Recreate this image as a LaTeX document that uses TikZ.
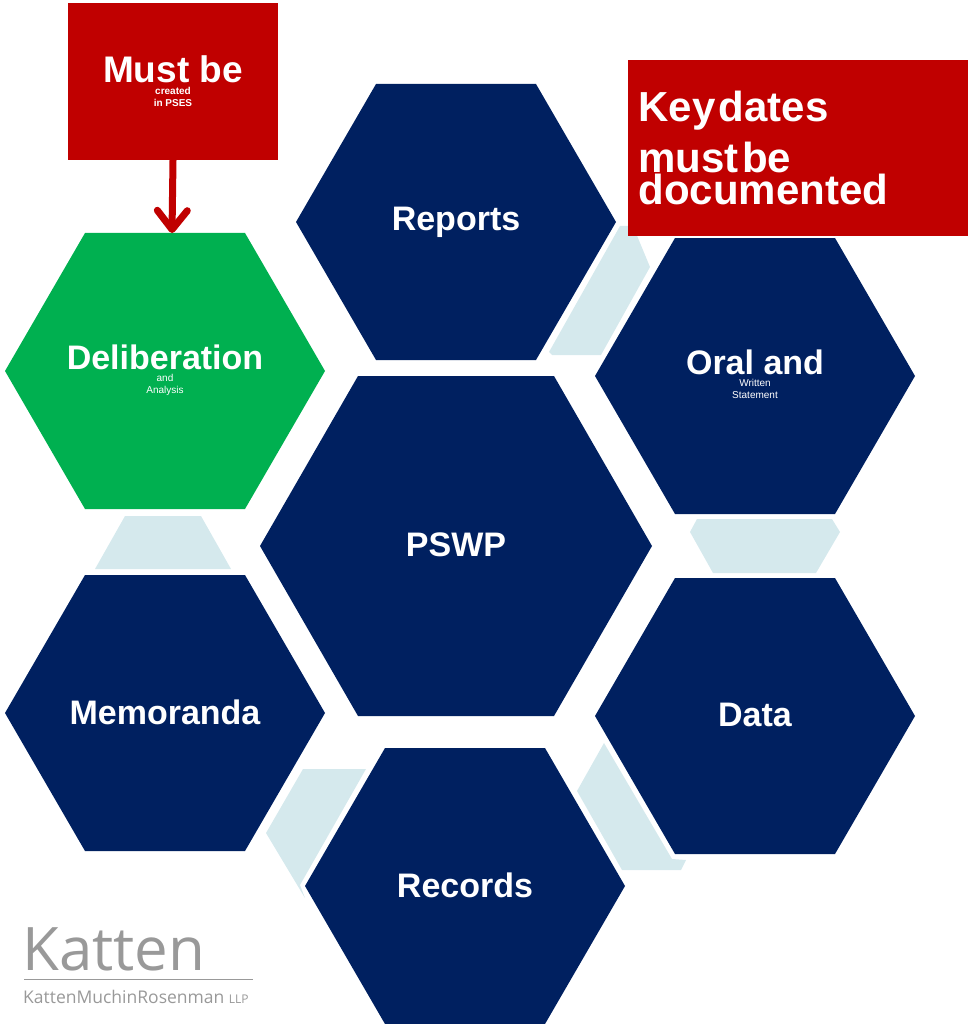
\documentclass[tikz,border=0pt]{standalone}
\usepackage{fontspec}
\setmainfont{Liberation Sans}
\newfontfamily\logofont{Open Sans}
\usepackage{tikz}
\usetikzlibrary{arrows.meta}
\definecolor{hexnavy}{HTML}{002060}
\definecolor{hexgreen}{HTML}{00B050}
\definecolor{boxred}{HTML}{C00000}
\definecolor{bandblue}{HTML}{D5E9ED}
\definecolor{logogrey}{HTML}{999999}
\newcommand{\hexlabel}[1]{\fontsize{34}{36}\selectfont\bfseries #1}
\tikzset{
    hextext/.style={text=white, align=center, inner sep=0pt},
    band/.style={fill=bandblue},
    redbox/.style={fill=boxred, text=white, inner sep=0pt, font=\bfseries}
}

\begin{document}
\begin{tikzpicture}[x=1pt, y=-1pt]
    \useasboundingbox (0,0) rectangle (970,1024);

    % Baender.
    \fill[band] (620,226) -- (633,226) -- (650,267) -- (601,355) -- (552,355) -- (549,352) -- cycle;
    \fill[band] (697,519) -- (832,519) -- (840,532) -- (816,573) -- (713,573) -- (690,532) -- cycle;
    \fill[band] (604,743) -- (672,859) -- (686,860) -- (681,870) -- (622,870) -- (577,791) -- cycle;
    \fill[band] (303,769) -- (366,769) -- (300,885) -- (305,898) -- (266,833) -- cycle;
    \fill[band] (125,516) -- (201,516) -- (231,569) -- (95,569) -- cycle;

    % Sechsecke.
    \foreach \cx/\cy/\hexcol in {456/222/hexnavy, 755/376/hexnavy, 165/371/hexgreen, 165/713/hexnavy, 755/716/hexnavy, 465/886/hexnavy}
    {
        \fill[color=\hexcol] (\cx-160,\cy) -- (\cx-80,\cy-138) -- (\cx+80,\cy-138) -- (\cx+160,\cy) -- (\cx+80,\cy+138) -- (\cx-80,\cy+138) -- cycle;
    }
    \fill[color=hexnavy] (260,546) -- (358,376) -- (554,376) -- (652,546) -- (554,716) -- (358,716) -- cycle;

    % Beschriftung der Sechsecke.
    \node[hextext] (reports) at (456,222) {\hexlabel{Reports}};
    \node[hextext] (oral) at (755,374.5) {\hexlabel{Oral and\\Written\\Statement}};
    \node[hextext] (delib) at (165,370) {\hexlabel{Deliberation\\and\\Analysis}};
    \node[hextext] (pswp) at (456,545) {\hexlabel{PSWP}};
    \node[hextext] (memo) at (165,712) {\hexlabel{Memoranda}};
    \node[hextext] (data) at (755,715) {\hexlabel{Data}};
    \node[hextext] (records) at (465,885) {\hexlabel{Records}};

    % Rote Kaesten.
    \node[redbox, minimum width=210pt, minimum height=157pt, align=center] (mustbox) at (173,81.5)
        {\fontsize{37}{44}\selectfont\bfseries Must be\\created\\in PSES};
    \node[redbox, minimum width=340pt, minimum height=176pt, align=left, text width=319pt, inner xsep=0pt] (keybox) at (798,148)
        {\fontsize{42}{51}\selectfont\bfseries Key dates\\must be\\documented};

    % Pfeil.
    \coordinate (deltop) at (172,233);
    \draw[color=boxred, line width=7pt, -{Straight Barb[length=19pt, width=30pt, round]}] (mustbox.south) -- (deltop);

    % Logo.
    \node[text=logogrey, inner sep=0pt, anchor=base west, font=\logofont\fontsize{60}{60}\selectfont] (logoname) at (22,970) {Katten};
    \coordinate (rulestart) at (24,979);
    \coordinate (ruleend) at (253,979);
    \draw[color=logogrey, line width=1pt] (rulestart) -- (ruleend);
    \node[text=logogrey, inner sep=0pt, anchor=base west, font=\logofont\fontsize{17.5}{18}\selectfont] (logofirm) at (23,1003) {KattenMuchinRosenman {\fontsize{12}{12}\selectfont LLP}};
\end{tikzpicture}
\end{document}
